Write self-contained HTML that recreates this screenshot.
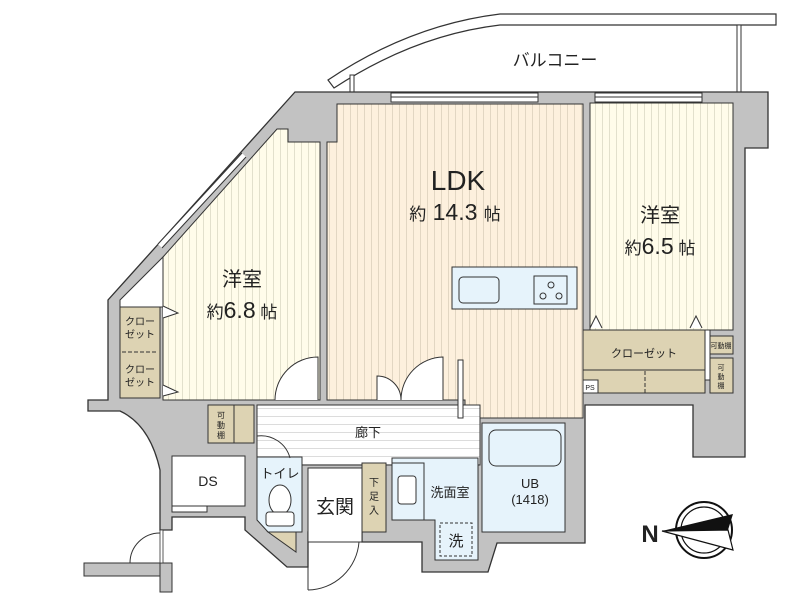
<!DOCTYPE html>
<html><head><meta charset="utf-8"><style>
html,body{margin:0;padding:0;background:#fff;}
svg{display:block;}
text{font-family:"Liberation Sans","Noto Sans CJK JP",sans-serif;fill:#222;}
</style></head><body>
<svg width="800" height="600" viewBox="0 0 800 600" xmlns="http://www.w3.org/2000/svg">
<defs>
<pattern id="pL" width="7" height="10" patternUnits="userSpaceOnUse"><rect width="7" height="10" fill="#fdf0dd"/><rect x="0" width="1" height="10" fill="#e2d6c2"/></pattern>
<pattern id="pB" width="7" height="10" patternUnits="userSpaceOnUse"><rect width="7" height="10" fill="#fffcea"/><rect x="0" width="1" height="10" fill="#e2e0cc"/></pattern>
<pattern id="pH" width="10" height="8" patternUnits="userSpaceOnUse"><rect width="10" height="8" fill="#fff"/><rect y="0" width="10" height="1" fill="#dcdcdc"/></pattern>
</defs>

<!-- balcony -->
<path d="M328,80 Q410,25 500,14 L776,14 L776,25 L500,25 Q415,35 334,88 Z" fill="#fff" stroke="#333" stroke-width="1.2"/>
<rect x="350" y="75" width="4" height="17" fill="#fff" stroke="#333"/>
<rect x="737" y="25" width="4" height="67" fill="#fff" stroke="#333"/>
<text x="555" y="66" font-size="17" text-anchor="middle">バルコニー</text>

<!-- wall shell -->
<path d="M295,92 L768,92 L768,148 L745,148 L745,457 L693,457 L693,405 L585,405 L585,543 L497,543 L488,572 L422,572 L422,542 L362,542 L362,532 L308,532 L308,567 L287,567 L245,530 L245,517 L172,517 L172,530 L160,530 L160,470 Q150,425 120,411 L88,411 L88,400 L108,400 L108,300 Z" fill="#c2c2c2" stroke="#333" stroke-width="1.3"/>
<!-- bottom left wall -->
<rect x="84" y="563" width="88" height="13" fill="#c2c2c2" stroke="#333"/>
<rect x="160" y="563" width="12" height="29" fill="#c2c2c2" stroke="#333"/>
<rect x="160" y="530" width="3" height="33" fill="#fff" stroke="#333" stroke-width="0.8"/>
<path d="M130,563 A30,30 0 0 1 160,533" fill="none" stroke="#333"/>

<!-- windows top -->
<rect x="391" y="93" width="147" height="9" fill="#fff" stroke="#333"/>
<line x1="391" y1="97" x2="538" y2="97" stroke="#333"/>
<rect x="595" y="93" width="107" height="9" fill="#fff" stroke="#333"/>
<line x1="595" y1="97" x2="702" y2="97" stroke="#333"/>

<!-- LDK -->
<path d="M337,104 L583,104 L583,418 L465,418 L465,400 L327,400 L327,142 L337,142 Z" fill="url(#pL)" stroke="#333"/>
<!-- left bedroom -->
<path d="M277,129 L288,129 L288,142 L320,142 L320,400 L163,400 L163,257 Z" fill="url(#pB)" stroke="#333"/>
<path d="M163,257 L163,307 L120,307 L120,300 Z" fill="#fff" stroke="#333"/>
<!-- diagonal window in wall -->
<path d="M160,246 L244,155" stroke="#fff" stroke-width="6"/>
<path d="M158,244 L242,153 M162,248 L246,157" stroke="#333" stroke-width="1"/>
<rect x="120" y="307" width="40" height="91" fill="#ddd3b3" stroke="#333"/>
<line x1="122" y1="352" x2="156" y2="352" stroke="#333" stroke-dasharray="4,2"/>
<text x="140" y="325" font-size="10" text-anchor="middle">クロー</text>
<text x="140" y="338" font-size="10" text-anchor="middle">ゼット</text>
<text x="140" y="373" font-size="10" text-anchor="middle">クロー</text>
<text x="140" y="386" font-size="10" text-anchor="middle">ゼット</text>
<path d="M163,306 L178,313 L163,318" fill="#fff" stroke="#333"/>
<path d="M163,385 L178,392 L163,396" fill="#fff" stroke="#333"/>
<!-- right bedroom -->
<rect x="590" y="103" width="143" height="227" fill="url(#pB)" stroke="#333"/>
<rect x="583" y="330" width="122" height="63" fill="#ddd3b3" stroke="#333"/>
<line x1="583" y1="370" x2="705" y2="370" stroke="#333"/>
<line x1="645" y1="371" x2="645" y2="393" stroke="#333" stroke-dasharray="4,2"/>
<text x="644" y="357" font-size="11" text-anchor="middle">クローゼット</text>
<rect x="705" y="330" width="5" height="50" fill="#fff" stroke="#333"/>
<rect x="710" y="336" width="23" height="18" fill="#ddd3b3" stroke="#333"/>
<text x="721" y="348" font-size="7" text-anchor="middle">可動棚</text>
<rect x="710" y="358" width="23" height="35" fill="#ddd3b3" stroke="#333"/>
<text x="721" y="370" font-size="7" text-anchor="middle">可</text><text x="721" y="379" font-size="7" text-anchor="middle">動</text><text x="721" y="388" font-size="7" text-anchor="middle">棚</text>
<rect x="583" y="380" width="15" height="13" fill="#fff" stroke="#333"/>
<text x="590" y="390" font-size="7" text-anchor="middle">PS</text>
<path d="M590,328 L596,316 L602,328" fill="#fff" stroke="#333"/>
<path d="M690,328 L696,316 L702,328" fill="#fff" stroke="#333"/>
<!-- kitchen -->
<rect x="452" y="267" width="125" height="42" fill="#e6f3fb" stroke="#333"/>
<rect x="459" y="277" width="40" height="26" rx="4" fill="#e6f3fb" stroke="#333"/>
<rect x="534" y="276" width="33" height="28" fill="#e6f3fb" stroke="#333"/>
<circle cx="551" cy="285" r="3" fill="none" stroke="#333"/><circle cx="543" cy="296" r="3" fill="none" stroke="#333"/><circle cx="559" cy="296" r="3" fill="none" stroke="#333"/>

<!-- hallway -->
<rect x="257" y="405" width="223" height="60" fill="url(#pH)" stroke="#333"/>
<rect x="208" y="405" width="46" height="38" fill="#ddd3b3" stroke="#333"/>
<line x1="234" y1="405" x2="234" y2="443" stroke="#333"/>
<text x="221" y="418" font-size="8" text-anchor="middle">可</text><text x="221" y="428" font-size="8" text-anchor="middle">動</text><text x="221" y="438" font-size="8" text-anchor="middle">棚</text>
<text x="368" y="437" font-size="13" text-anchor="middle">廊下</text>
<!-- DS -->
<rect x="172" y="456" width="73" height="50" fill="#fff" stroke="#333"/>
<rect x="172" y="506" width="35" height="6" fill="#fff" stroke="#333"/>
<text x="208" y="486" font-size="14" text-anchor="middle">DS</text>
<!-- toilet -->
<path d="M257,457 L302,457 L302,532 L268,532 L257,520 Z" fill="#e6f3fb" stroke="#333"/>
<path d="M268,532 L296,532 L296,552 Z" fill="#ddd3b3" stroke="#333"/>
<text x="280" y="478" font-size="13" text-anchor="middle">トイレ</text>
<ellipse cx="280" cy="500" rx="11" ry="15" fill="#fff" stroke="#333"/>
<rect x="266" y="512" width="28" height="14" rx="3" fill="#fff" stroke="#333"/>
<!-- genkan -->
<rect x="308" y="468" width="54" height="74" fill="#fff" stroke="#333"/>
<text x="335" y="513" font-size="19" text-anchor="middle">玄関</text>
<path d="M308,542 L308,590 M308,590 A52,52 0 0 0 359,542" fill="none" stroke="#333"/>
<rect x="362" y="463" width="24" height="69" fill="#ddd3b3" stroke="#333"/>
<text x="374" y="486" font-size="10" text-anchor="middle">下</text><text x="374" y="500" font-size="10" text-anchor="middle">足</text><text x="374" y="514" font-size="10" text-anchor="middle">入</text>
<!-- wash -->
<path d="M392,458 L478,458 L478,560 L435,560 L435,520 L392,520 Z" fill="#e6f3fb" stroke="#333"/>
<rect x="392" y="463" width="32" height="57" fill="#e6f3fb" stroke="#333"/>
<rect x="398" y="476" width="18" height="28" rx="3" fill="#fff" stroke="#333"/>
<rect x="440" y="523" width="32" height="33" fill="none" stroke="#333" stroke-dasharray="3,2"/>
<text x="456" y="546" font-size="15" text-anchor="middle">洗</text>
<text x="450" y="497" font-size="13" text-anchor="middle">洗面室</text>
<!-- UB -->
<rect x="482" y="423" width="83" height="109" fill="#e6f3fb" stroke="#333"/>
<rect x="489" y="430" width="72" height="36" rx="7" fill="#e6f3fb" stroke="#333"/>
<text x="530" y="488" font-size="13" text-anchor="middle">UB</text>
<text x="530" y="504" font-size="13" text-anchor="middle">(1418)</text>

<!-- doors -->
<path d="M318,400 L318,357 A43,43 0 0 0 275,400" fill="#fff" stroke="#333"/>
<path d="M377,400 L377,376 A24,24 0 0 1 401,400" fill="#fff" stroke="#333"/>
<path d="M443,400 L443,357 A43,43 0 0 0 401,400" fill="#fff" stroke="#333"/>
<rect x="458" y="360" width="5" height="58" fill="#fff" stroke="#333"/>
<path d="M257,440 L257,462 M257,436 A30,30 0 0 1 290,458" fill="none" stroke="#333"/>

<!-- labels -->
<text x="458" y="190" font-size="28" text-anchor="middle">LDK</text>
<text x="455" y="220" text-anchor="middle"><tspan font-size="17">約</tspan><tspan font-size="23"> 14.3 </tspan><tspan font-size="17">帖</tspan></text>
<text x="242" y="286" font-size="20" text-anchor="middle">洋室</text>
<text x="242" y="318" text-anchor="middle"><tspan font-size="17">約</tspan><tspan font-size="23">6.8</tspan><tspan font-size="17"> 帖</tspan></text>
<text x="660" y="222" font-size="20" text-anchor="middle">洋室</text>
<text x="660" y="254" text-anchor="middle"><tspan font-size="17">約</tspan><tspan font-size="23">6.5</tspan><tspan font-size="17"> 帖</tspan></text>

<!-- compass -->
<circle cx="704" cy="530" r="28" fill="#fff" stroke="#111" stroke-width="2"/>
<circle cx="704" cy="530" r="23" fill="none" stroke="#111" stroke-width="1.2"/>
<path d="M662,531 L733,514 L728,530 Z" fill="#111"/>
<path d="M662,531 L733,550 L728,530 Z" fill="#fff" stroke="#111" stroke-width="1.2"/>
<text x="650" y="542" font-size="24" font-weight="bold" text-anchor="middle" fill="#111">N</text>
</svg>
</body></html>
